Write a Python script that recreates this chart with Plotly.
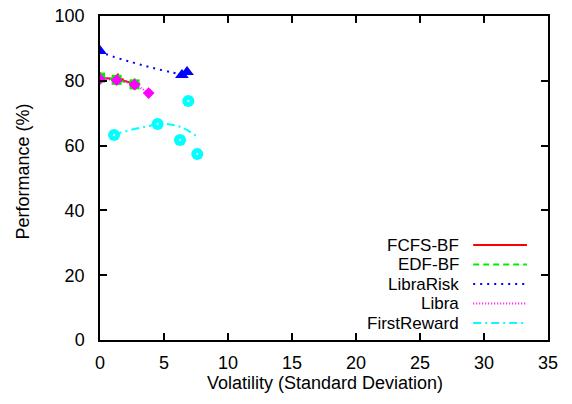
import plotly.graph_objects as go

# ---- data ----
fcfs_x = [0.0, 1.4, 2.7]
fcfs_y = [80.9, 80.5, 79.0]
edf_x = [0.0, 1.3, 2.7]
edf_y = [81.0, 80.3, 78.9]
librarisk_x = [0.0, 6.4, 6.8]
librarisk_y = [89.2, 81.8, 82.7]
libra_x = [0.0, 1.3, 2.7, 3.8]
libra_y = [80.5, 80.2, 78.8, 76.2]
firstreward_x = [1.1, 4.5, 6.25, 6.9, 7.6]
firstreward_y = [63.3, 66.7, 61.7, 73.8, 57.4]

# smoothed trend curves
librarisk_curve_x = [0.0, 0.5, 2.6, 4.1, 5.6, 6.4]
librarisk_curve_y = [89.2, 88.2, 85.6, 84.0, 82.6, 81.8]
firstreward_curve_x = [1.1, 1.6, 3.4, 5.2, 6.5, 7.6]
firstreward_curve_y = [63.3, 64.0, 65.7, 66.7, 65.4, 62.7]

series_names = ["FCFS-BF", "EDF-BF", "LibraRisk", "Libra", "FirstReward"]
colors = ["#ff0000", "#00ee00", "#0000ff", "#ff00ff", "#00ffff"]
dashes = ["solid", "6px,4px", "2px,5px", "1px,2px", "8px,4px,2px,4px"]

x_ticks = [0, 5, 10, 15, 20, 25, 30, 35]
y_ticks = [0, 20, 40, 60, 80, 100]

FONT = "Liberation Sans, Arial, Helvetica, sans-serif"

fig = go.Figure()

lines = [
    (fcfs_x, fcfs_y),
    (edf_x, edf_y),
    (librarisk_curve_x, librarisk_curve_y),
    (libra_x, libra_y),
    (firstreward_curve_x, firstreward_curve_y),
]
points = [
    (fcfs_x, fcfs_y, "cross-thin", 8),
    (edf_x, edf_y, "square", 10),
    (librarisk_x, librarisk_y, "triangle-up", 12),
    (libra_x, libra_y, "diamond", 9),
    (firstreward_x, firstreward_y, "circle", 12),
]

for i in range(5):
    lx, ly = lines[i]
    fig.add_trace(go.Scatter(x=lx, y=ly, mode="lines", showlegend=False,
                             line=dict(color=colors[i], width=2, dash=dashes[i], shape="spline")))
    px, py, sym, sz = points[i]
    mk = dict(color=colors[i], symbol=sym, size=sz)
    if sym == "cross-thin":
        mk["line"] = dict(color=colors[i], width=2)
    fig.add_trace(go.Scatter(x=px, y=py, mode="markers", showlegend=False, marker=mk))

# small light center dots of the FirstReward circles
fig.add_trace(go.Scatter(x=firstreward_x, y=firstreward_y, mode="markers", showlegend=False,
                         marker=dict(color="#b8ffff", size=2.5, symbol="circle")))

# custom gnuplot-style key: right-justified text with a line sample on the right
shapes = []
annotations = []
key_py = [245, 264.5, 284, 303.5, 323]
for i, name in enumerate(series_names):
    yp = (340 - key_py[i]) / 324
    annotations.append(dict(x=0.806, y=yp, xref="paper", yref="paper", text=name,
                            showarrow=False, xanchor="right", yanchor="middle",
                            font=dict(size=17, color="black", family=FONT)))
    shapes.append(dict(type="line", xref="paper", yref="paper", x0=0.833, x1=0.953,
                       y0=yp, y1=yp,
                       line=dict(color=colors[i], width=2, dash=dashes[i])))

annotations.append(dict(x=0.502, y=-0.133, xref="paper", yref="paper",
                        text="Volatility (Standard Deviation)", showarrow=False,
                        xanchor="center", yanchor="middle",
                        font=dict(size=18, color="black", family=FONT)))
annotations.append(dict(x=-0.172, y=0.52, xref="paper", yref="paper",
                        text="Performance (%)", showarrow=False, textangle=-90,
                        xanchor="center", yanchor="middle",
                        font=dict(size=18, color="black", family=FONT)))

axis_common = dict(showgrid=False, zeroline=False, showline=True, linecolor="black",
                   linewidth=1.5, mirror="ticks", ticks="inside", ticklen=7,
                   tickcolor="black", tickwidth=1.5, automargin=False,
                   tickfont=dict(size=18, color="black", family=FONT))

fig.update_layout(
    width=572, height=404,
    margin=dict(l=100, r=24, t=16, b=64),
    paper_bgcolor="white", plot_bgcolor="white",
    showlegend=False,
    xaxis=dict(range=[0, 35], tickvals=x_ticks, ticklabelstandoff=6, **axis_common),
    yaxis=dict(range=[0, 100], tickvals=y_ticks, ticklabelstandoff=10, **axis_common),
    shapes=shapes, annotations=annotations,
)

fig.write_html("out.html")
